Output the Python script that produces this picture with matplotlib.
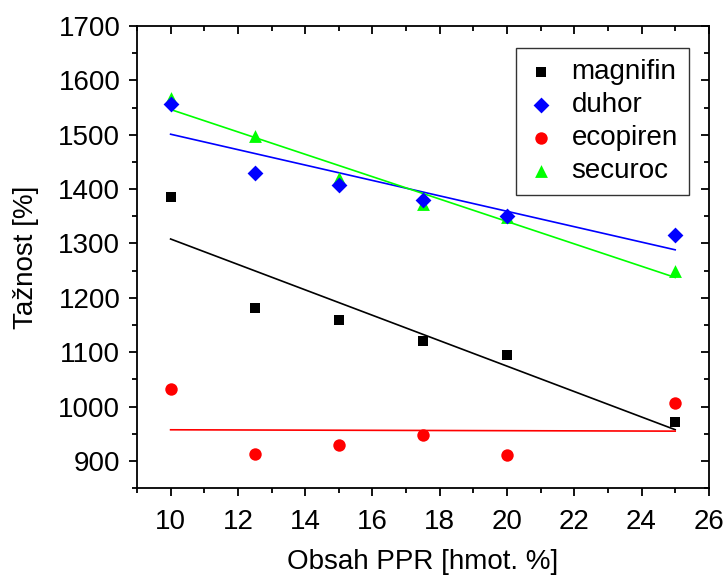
import numpy as np
from matplotlib import pyplot as plt

plt.rcParams['font.family'] = ['Liberation Sans', 'DejaVu Sans']

# Obsah PPR [hmot. %]
x = [10, 12.5, 15, 17.5, 20, 25]

# Tažnost [%]
magnifin = [1385, 1182, 1160, 1121, 1094, 972]
duhor = [1557, 1429, 1407, 1380, 1351, 1315]
ecopiren = [1032, 912, 930, 947, 910, 1006]
securoc = [1568, 1497, 1420, 1372, 1348, 1250]

# name, values, colour, marker, size, zorder (diamonds sit on top of triangles)
series = [
	('magnifin', magnifin, 'black', 's', 60, 3),
	('duhor', duhor, '#0000ff', 'D', 65, 4),
	('ecopiren', ecopiren, '#ff0000', 'o', 80, 3),
	('securoc', securoc, '#00ff00', '^', 85, 3),
]

fig = plt.figure(figsize=(7.27, 5.79), dpi=100)
ax = fig.add_axes([0.1884, 0.157, 0.7866, 0.798])

xa = np.asarray(x)
# linear fits first, markers on top
for name, y, col, m, s, z in series:
	k, q = np.polyfit(xa, np.asarray(y), 1)
	ax.plot([xa[0], xa[-1]], [k*xa[0]+q, k*xa[-1]+q], color=col, lw=1.2, zorder=2)

for name, y, col, m, s, z in series:
	ax.scatter(x, y, color=col, marker=m, s=s, label=name, linewidths=0, zorder=z)

ax.set_xlim(9, 26)
ax.set_ylim(850, 1700)
ax.set_xticks(range(10, 27, 2))
ax.set_xticks(range(9, 27, 1), minor=True)
ax.set_yticks(range(900, 1701, 100))
ax.set_yticks(range(850, 1701, 50), minor=True)

for sp in ax.spines.values():
	sp.set_linewidth(1.3)

ax.tick_params(which='both', top=True, right=True, width=1.3, labelsize=20)
ax.tick_params(which='major', length=6, pad=6)
ax.tick_params(axis='x', which='major', pad=9)
ax.tick_params(which='minor', length=3.5)
ax.tick_params(axis='x', which='both', direction='out')
ax.tick_params(axis='y', which='both', direction='out')
# top/right ticks point inward
for t in ax.xaxis.get_major_ticks() + ax.xaxis.get_minor_ticks():
	t.tick2line.set_marker(3)
for t in ax.yaxis.get_major_ticks() + ax.yaxis.get_minor_ticks():
	t.tick2line.set_marker(0)

ax.set_xlabel('Obsah PPR [hmot. %]', fontsize=20, labelpad=10)
ax.set_ylabel('Tažnost [%]', fontsize=20, labelpad=14)

leg = ax.legend(loc='upper right', bbox_to_anchor=(0.965, 0.952), fontsize=20,
	frameon=True, fancybox=False, edgecolor='black', handlelength=1.0,
	handletextpad=0.6, borderpad=0.4, borderaxespad=0, labelspacing=0.25,
	scatterpoints=1)
leg.get_frame().set_linewidth(1.0)

plt.savefig('out.png', dpi=100)
